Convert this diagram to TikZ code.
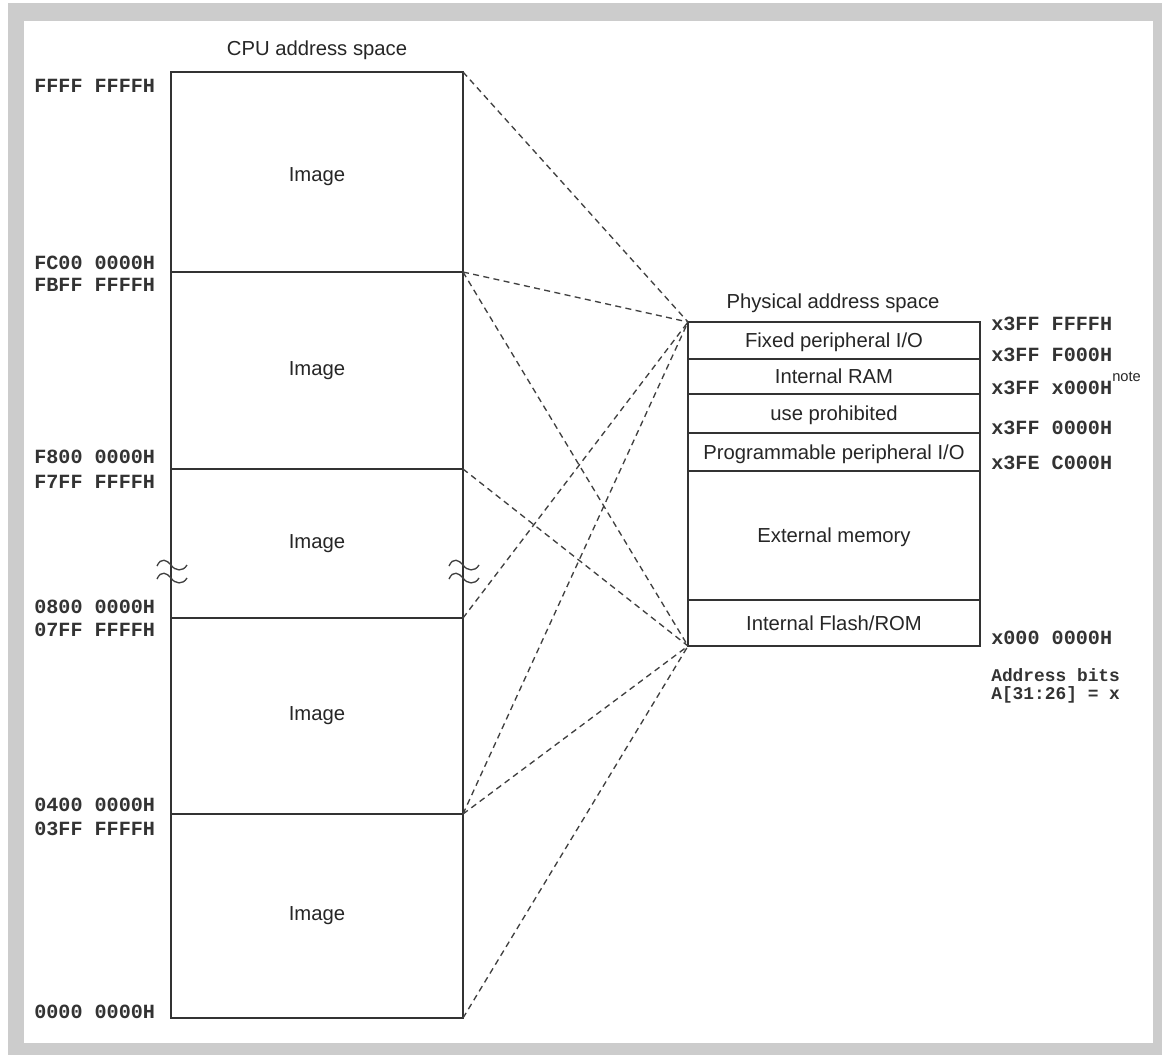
\documentclass[tikz,border=0pt]{standalone}
\usepackage{fontspec}
\setmainfont{Liberation Sans}
\setmonofont{Liberation Mono}
\begin{document}
\begin{tikzpicture}[x=0.75pt,y=-0.75pt,
  region/.style={draw=black!80, line width=1.3pt, inner sep=0pt, outer sep=0pt, anchor=north west,
    minimum width=219pt, font=\fontsize{15.2}{18}\selectfont, text=black!85},
  pregion/.style={region, text depth=0pt},
  title/.style={font=\fontsize{15.2}{18}\selectfont, text=black!85, inner sep=0pt},
  addr/.style={font=\fontsize{15.1}{18}\ttfamily\bfseries, text=black!80, anchor=west, inner sep=0pt},
  small/.style={font=\fontsize{13.4}{16}\ttfamily\bfseries, text=black!80, anchor=west, inner sep=0pt},
  map/.style={draw=black!75, line width=1pt, dash pattern=on 4.5pt off 3.3pt},
  brk/.style={draw=black!75, line width=1pt}]
\useasboundingbox (0,0) rectangle (1162,1055);
\fill[white] (0,0) rectangle (1162,1055);
\fill[gray!40] (8,3) rectangle (1162,1055);
\fill[white] (24,21) rectangle (1153,1043);

% CPU address space
\node[title] (cputitle) at (317,50) {CPU address space};
\node[region, minimum height=150pt] (img1) at (171,72) {\raisebox{-7.5pt}[0pt][0pt]{Image}};
\node[region, minimum height=147.75pt] (img2) at (img1.south west) {Image};
\node[region, minimum height=111.75pt] (img3) at (img2.south west) {Image};
\node[region, minimum height=147pt] (img4) at (img3.south west) {Image};
\node[region, minimum height=153pt] (img5) at (img4.south west) {Image};

% addresses left
\node[addr] (a1) at (34,86) {FFFF FFFFH};
\node[addr] (a2) at (34,263) {FC00 0000H};
\node[addr] (a3) at (34,285) {FBFF FFFFH};
\node[addr] (a4) at (34,457) {F800 0000H};
\node[addr] (a5) at (34,482) {F7FF FFFFH};
\node[addr] (a6) at (34,607) {0800 0000H};
\node[addr] (a7) at (34,630) {07FF FFFFH};
\node[addr] (a8) at (34,805) {0400 0000H};
\node[addr] (a9) at (34,829) {03FF FFFFH};
\node[addr] (a10) at (34,1012) {0000 0000H};

% break marks
\foreach \cx in {171,463}{
  \foreach \cy in {566,579}{
    \draw[brk] (\cx-14,\cy) .. controls (\cx-10,\cy-9) and (\cx-4,\cy-6) .. (\cx,\cy-1)
      .. controls (\cx+4,\cy+5) and (\cx+12,\cy+6) .. (\cx+16,\cy-1);
  }
}

% Physical address space
\node[title] (phystitle) at (833,303) {Physical address space};
\node[pregion, minimum height=27.75pt] (fix) at (688,322) {Fixed peripheral I/O};
\node[pregion, minimum height=26.25pt] (ram) at (fix.south west) {Internal RAM};
\node[pregion, minimum height=29.25pt] (pro) at (ram.south west) {use prohibited};
\node[pregion, minimum height=28.5pt] (ppio) at (pro.south west) {Programmable peripheral I/O};
\node[pregion, minimum height=96.75pt] (ext) at (ppio.south west) {External memory};
\node[region, minimum height=34.5pt] (flash) at (ext.south west) {Internal Flash/ROM};

% addresses right
\node[addr] (b1) at (991,324) {x3FF FFFFH};
\node[addr] (b2) at (991,355) {x3FF F000H};
\node[addr] (b3) at (991,388) {x3FF x000H};
\node[title, anchor=west, font=\fontsize{11}{12}\selectfont] (note) at (1112,377) {note};
\node[addr] (b4) at (991,428) {x3FF 0000H};
\node[addr] (b5) at (991,463) {x3FE C000H};
\node[addr] (b6) at (991,638) {x000 0000H};
\node[small] (bits1) at (991,675) {Address bits};
\node[small] (bits2) at (991,695) {A[31:26] = x};

% mapping lines
\draw[map] (img1.north east) -- (fix.north west);
\draw[map] (img1.south east) -- (fix.north west);
\draw[map] (img1.south east) -- (flash.south west);
\draw[map] (img2.south east) -- (flash.south west);
\draw[map] (img3.south east) -- (fix.north west);
\draw[map] (img4.south east) -- (fix.north west);
\draw[map] (img4.south east) -- (flash.south west);
\draw[map] (img5.south east) -- (flash.south west);
\end{tikzpicture}
\end{document}
